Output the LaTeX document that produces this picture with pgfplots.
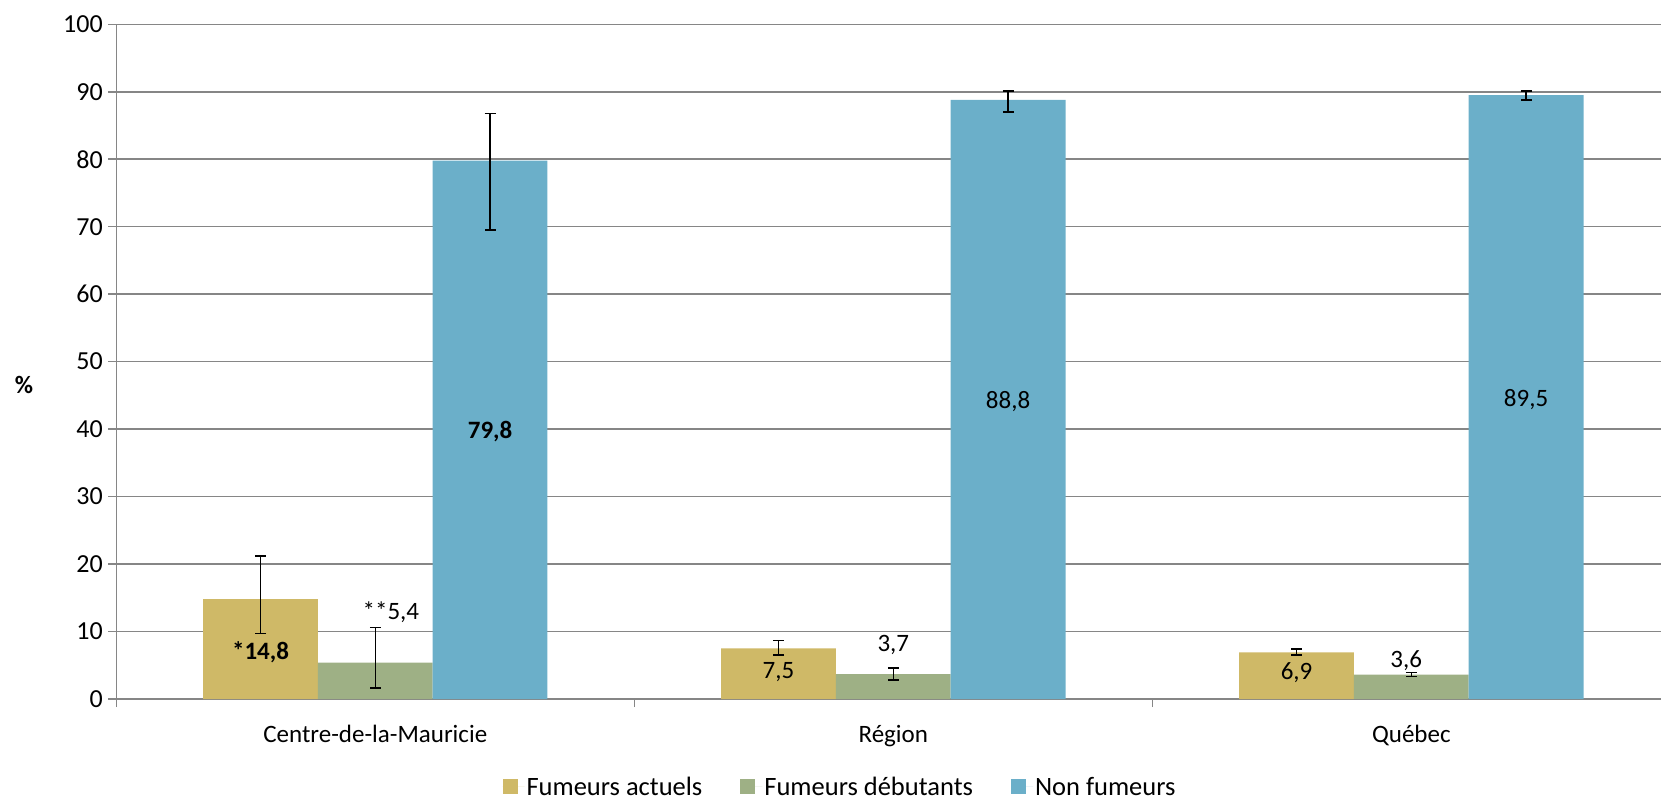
\documentclass[border=0pt]{standalone}
\usepackage{fontspec}
\setmainfont{Carlito}
\usepackage{pgfplots}
\usepackage{pgfplotstable}
\pgfplotsset{compat=1.18}
\definecolor{cyel}{HTML}{CFB967}
\definecolor{cgrn}{HTML}{9EB085}
\definecolor{cblu}{HTML}{6BAFC9}
\definecolor{cgrid}{RGB}{134,134,134}
\pgfplotstableread{
x y ep em
0 14.8 6.4 5.1
1 7.5 1.2 1.0
2 6.9 0.5 0.4
}\tyel
\pgfplotstableread{
x y ep em
0 5.4 5.2 3.8
1 3.7 0.9 0.9
2 3.6 0.3 0.3
}\tgrn
\pgfplotstableread{
x y ep em
0 79.8 7.0 10.3
1 88.8 1.3 1.8
2 89.5 0.6 0.7
}\tblu
\newcommand{\fs}{\fontsize{25}{30}\selectfont}
\newcommand{\ft}{\fontsize{26}{30}\selectfont}
\newcommand{\fl}{\fontsize{26.5}{31}\selectfont}
\begin{document}
\begin{tikzpicture}[x=1pt,y=1pt]
\begin{axis}[
  at={(0,0)}, anchor=south west, scale only axis,
  width=1544.7pt, height=674.7pt,
  xmin=-0.5, xmax=2.482, ymin=0, ymax=100,
  ybar=0pt, bar width=0.2216,
  axis x line*=bottom, axis y line*=left,
  axis line style={-, cgrid, line width=1.5pt},
  tick style={cgrid, line width=1.5pt},
  tick align=outside, major tick length=8pt,
  ytick={0,10,...,100},
  yticklabels={0,10,20,30,40,50,60,70,80,90,100},
  yticklabel style={font=\ft, anchor=east, xshift=-2pt},
  ymajorgrids, grid style={cgrid, line width=1.5pt},
  xtick={-0.5,0.5,1.5}, xticklabels={,,},
  extra x ticks={0,1,2},
  extra x tick labels={Centre-de-la-Mauricie,Région,Québec},
  extra x tick style={major tick length=0pt, grid=none},
  xticklabel style={font=\fs, yshift=-23pt},
  ylabel={\textbf{\%}},
  ylabel style={at={(axis description cs:-0.0598,0.465)}, anchor=center, rotate=-90, font=\fs},
  legend style={at={(axis description cs:0.4685,-0.130)}, anchor=center, draw=none,
    legend columns=3, font=\fl,
    /tikz/every even column/.append style={column sep=36pt}},
  legend image code/.code={\fill[#1] (0pt,-7.5pt) rectangle (15pt,7.5pt); \path (0pt,0pt) -- (22pt,0pt);},
  error bars/y dir=both, error bars/y explicit,
  error bars/error bar style={black, line width=1.5pt},
  error bars/error mark options={black, line width=1.5pt, mark size=5.5pt, rotate=90},
]
\addplot[fill=cyel, draw=none] table[x=x,y=y,y error plus=ep,y error minus=em]{\tyel};
\addlegendentry{Fumeurs actuels}
\addplot[fill=cgrn, draw=none] table[x=x,y=y,y error plus=ep,y error minus=em]{\tgrn};
\addlegendentry{Fumeurs débutants}
\addplot[fill=cblu, draw=none] table[x=x,y=y,y error plus=ep,y error minus=em]{\tblu};
\addlegendentry{Non fumeurs}
\node[font=\fs\bfseries] at (axis cs:-0.2216,7.0) {*14,8};
\node[font=\fs] at (axis cs:0.03,12.9) {**5,4};
\node[font=\fs\bfseries] at (axis cs:0.2216,39.6) {79,8};
\node[font=\fs] at (axis cs:0.7784,4.0) {7,5};
\node[font=\fs] at (axis cs:1.0,8.05) {3,7};
\node[font=\fs] at (axis cs:1.2216,44.1) {88,8};
\node[font=\fs] at (axis cs:1.7784,3.87) {6,9};
\node[font=\fs] at (axis cs:1.99,5.74) {3,6};
\node[font=\fs] at (axis cs:2.2216,44.4) {89,5};
\end{axis}
\pgfresetboundingbox
\useasboundingbox (-116.3,-101) rectangle (1544.7,699);
\end{tikzpicture}
\end{document}
